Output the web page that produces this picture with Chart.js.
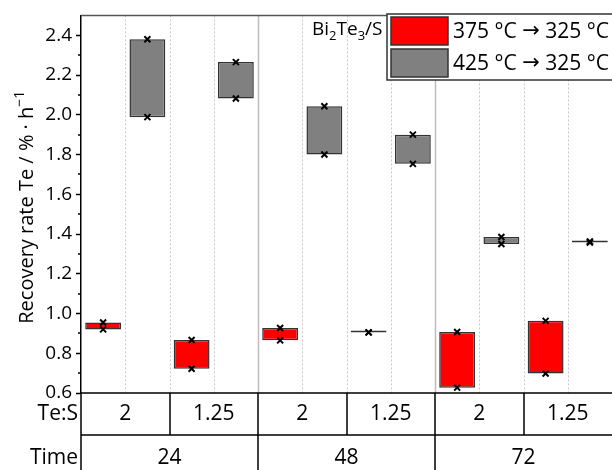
<!DOCTYPE html>
<html>
<head>
<meta charset="utf-8">
<script src="https://cdn.jsdelivr.net/npm/chart.js@4"></script>
<style>
  body { margin: 0; background: #fff; }
  canvas { display: block; }
</style>
</head>
<body>
<canvas id="chart" width="612" height="470"></canvas>
<script>
// Te:S ratio per column, time groups under them
const teS = ['2', '1.25', '2', '1.25', '2', '1.25'];
const times = ['24', '48', '72'];

// two runs per condition (the box spans them)
const redHigh = [0.955, 0.867, 0.927, 0.905, 0.907, 0.963];
const redLow = [0.920, 0.722, 0.865, 0.905, 0.627, 0.698];
const grayHigh = [2.380, 2.265, 2.043, 1.900, 1.385, 1.362];
const grayLow = [1.988, 2.082, 1.800, 1.753, 1.350, 1.357];

const yTicks = [0.6, 0.8, 1.0, 1.2, 1.4, 1.6, 1.8, 2.0, 2.2, 2.4];
const yMinor = [0.7, 0.9, 1.1, 1.3, 1.5, 1.7, 1.9, 2.1, 2.3];

const FONT = 'Open Sans';

const ctx = document.getElementById('chart');

// draw a string made of pieces: [text, font, dy]
function drawPieces(c, pieces, x, y) {
  pieces.forEach(([s, f, dy]) => {
    c.font = f;
    c.fillText(s, x, y + dy);
    x += c.measureText(s).width;
  });
  return x;
}
function piecesWidth(c, pieces) {
  let w = 0;
  pieces.forEach(([s, f]) => { c.font = f; w += c.measureText(s).width; });
  return w;
}

const extras = {
  id: 'extras',
  beforeDatasetsDraw(chart) {
    const c = chart.ctx, a = chart.chartArea, xs = chart.scales.x;
    c.save();
    for (let i = 0; i < teS.length; i++) {
      // dotted line in the middle of each column
      const xc = Math.round(xs.getPixelForValue(i)) + 0.5;
      c.strokeStyle = '#c8c8c8';
      c.lineWidth = 1;
      c.setLineDash([2, 2]);
      c.beginPath(); c.moveTo(xc, a.top); c.lineTo(xc, a.bottom); c.stroke();
      if (i < teS.length - 1) {
        const xb = Math.round((xs.getPixelForValue(i) + xs.getPixelForValue(i + 1)) / 2) + 0.5;
        if (i % 2 === 1) {
          c.setLineDash([]);
          c.strokeStyle = '#bdbdbd';
          c.lineWidth = 1.5;
        }
        c.beginPath(); c.moveTo(xb, a.top); c.lineTo(xb, a.bottom); c.stroke();
      }
    }
    c.restore();
  },
  afterDatasetsDraw(chart) {
    const c = chart.ctx, ys = chart.scales.y;
    c.save();
    c.strokeStyle = '#000';
    c.lineWidth = 2;
    const sets = [[redLow, redHigh], [grayLow, grayHigh]];
    sets.forEach((pair, d) => {
      chart.getDatasetMeta(d).data.forEach((el, i) => {
        pair.forEach(arr => {
          const y = ys.getPixelForValue(arr[i]);
          c.beginPath();
          c.moveTo(el.x - 3, y - 3); c.lineTo(el.x + 3, y + 3);
          c.moveTo(el.x + 3, y - 3); c.lineTo(el.x - 3, y + 3);
          c.stroke();
        });
      });
    });
    c.restore();
  },
  afterDraw(chart) {
    const c = chart.ctx, a = chart.chartArea, xs = chart.scales.x, ys = chart.scales.y;
    const W = chart.width, H = chart.height;
    c.save();
    // top frame
    c.strokeStyle = '#555';
    c.lineWidth = 1.5;
    c.beginPath(); c.moveTo(a.left, a.top); c.lineTo(a.right, a.top); c.stroke();

    // minor ticks
    c.strokeStyle = '#000';
    c.lineWidth = 1.5;
    yMinor.forEach(v => {
      const y = Math.round(ys.getPixelForValue(v));
      c.beginPath(); c.moveTo(a.left - 3, y); c.lineTo(a.left, y); c.stroke();
    });

    // y title with superscript
    c.fillStyle = '#000';
    c.textBaseline = 'alphabetic';
    c.textAlign = 'left';
    const tf = '20px "' + FONT + '"', sf = '14px "' + FONT + '"';
    const title = [['Recovery rate Te / % · h', tf, 0], ['−1', sf, -9]];
    const tw = piecesWidth(c, title);
    c.save();
    c.translate(33, (a.top + a.bottom) / 2 + 3);
    c.rotate(-Math.PI / 2);
    drawPieces(c, title, -tw / 2, 0);
    c.restore();

    // table under the plot
    const row1 = a.bottom, row2 = 435;
    c.strokeStyle = '#000';
    c.lineWidth = 1.5;
    c.beginPath();
    c.moveTo(a.left, row1); c.lineTo(W, row1);
    c.moveTo(a.left, row2); c.lineTo(W, row2);
    c.moveTo(a.left, row1); c.lineTo(a.left, H);
    for (let i = 0; i < teS.length - 1; i++) {
      const xb = Math.round((xs.getPixelForValue(i) + xs.getPixelForValue(i + 1)) / 2);
      c.moveTo(xb, row1);
      c.lineTo(xb, i % 2 === 1 ? H : row2);
    }
    c.stroke();

    c.fillStyle = '#000';
    c.font = '21px "' + FONT + '"';
    c.textBaseline = 'middle';
    c.textAlign = 'right';
    c.fillText('Te:S', a.left - 3, (row1 + row2) / 2);
    c.fillText('Time', a.left - 3, 458);
    c.textAlign = 'center';
    teS.forEach((t, i) => c.fillText(t, xs.getPixelForValue(i), (row1 + row2) / 2));
    times.forEach((t, g) => {
      const xm = (xs.getPixelForValue(2 * g) + xs.getPixelForValue(2 * g + 1)) / 2;
      c.fillText(t, xm, 458);
    });

    // sample label with subscripts
    c.textAlign = 'left';
    c.textBaseline = 'alphabetic';
    const bf = '19px "' + FONT + '"', bs = '13px "' + FONT + '"';
    drawPieces(c, [['Bi', bf, 0], ['2', bs, 5], ['Te', bf, 0], ['3', bs, 5], ['/S', bf, 0]], 312, 35);

    // legend
    const lx = 387, ly = 14, lh = 66;
    c.fillStyle = '#fff';
    c.fillRect(lx, ly, W - lx + 2, lh);
    c.strokeStyle = '#333';
    c.lineWidth = 1.5;
    c.strokeRect(lx, ly, W - lx + 2, lh);
    const lf = '21px "' + FONT + '"', af = '21px "DejaVu Sans"';
    chart.data.datasets.forEach((ds, d) => {
      const sy = ly + 3 + d * 32;
      c.fillStyle = ds.backgroundColor;
      c.fillRect(lx + 4, sy, 57, 28);
      c.strokeStyle = '#333';
      c.strokeRect(lx + 4, sy, 57, 28);
      c.fillStyle = '#000';
      c.textBaseline = 'middle';
      const [from, to] = ds.label.split(' → ');
      drawPieces(c, [[from + ' ', lf, 0], ['→', af, 0], [' ' + to, lf, 0]], lx + 66, sy + 15);
    });
    c.restore();
  }
};

new Chart(ctx, {
  type: 'bar',
  data: {
    labels: teS,
    datasets: [
      {
        label: '375 °C → 325 °C',
        data: redLow.map((v, i) => [Math.min(v, redHigh[i]), Math.max(v, redHigh[i])]),
        backgroundColor: '#ff0000',
        borderColor: '#333',
        borderWidth: 1.5,
        borderSkipped: false,
        minBarLength: 2
      },
      {
        label: '425 °C → 325 °C',
        data: grayLow.map((v, i) => [Math.min(v, grayHigh[i]), Math.max(v, grayHigh[i])]),
        backgroundColor: '#808080',
        borderColor: '#333',
        borderWidth: 1.5,
        borderSkipped: false,
        minBarLength: 2
      }
    ]
  },
  options: {
    responsive: false,
    animation: false,
    layout: { padding: { top: 14, bottom: 77, left: 0, right: 0 } },
    datasets: { bar: { categoryPercentage: 1, barPercentage: 0.81 } },
    plugins: { legend: { display: false }, tooltip: { enabled: false } },
    scales: {
      x: { display: false, offset: true },
      y: {
        min: 0.6,
        max: 2.5,
        afterBuildTicks: s => { s.ticks = yTicks.map(v => ({ value: v })); },
        afterFit: s => { s.width = 81; },
        ticks: {
          color: '#000',
          padding: 4,
          font: { family: FONT, size: 19 },
          callback: v => Number(v).toFixed(1)
        },
        grid: { drawOnChartArea: false, tickLength: 5, color: '#000', tickWidth: 1.5 },
        border: { color: '#000', width: 1.5 }
      }
    }
  },
  plugins: [extras]
});
</script>
</body>
</html>
